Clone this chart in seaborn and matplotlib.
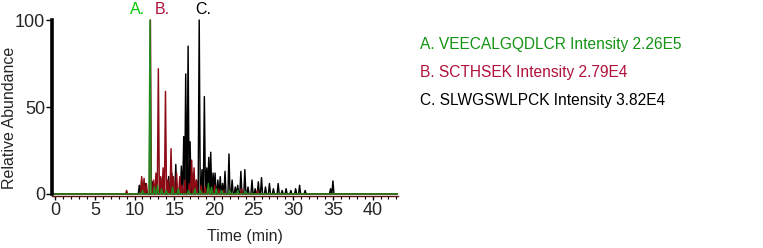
import matplotlib
matplotlib.use("Agg")
import matplotlib.pyplot as plt
import matplotlib.ticker as mticker
import seaborn as sns
import pandas as pd

# ---------------- data ----------------
series_names = ["A. VEECALGQDLCR", "B. SCTHSEK", "C. SLWGSWLPCK"]
intensities = ["2.26E5", "2.79E4", "3.82E4"]
short_labels = ["A.", "B.", "C."]

# peak apex times (min) and relative abundances (%)
a_times = [11.0, 11.95, 12.5, 12.9, 13.4, 14.0, 14.8, 15.5, 16.8, 17.6, 18.3,
           19.3, 19.7, 20.3, 21.0, 22.0, 23.0, 24.0]
a_heights = [2, 100, 4, 5, 3, 2, 4, 3, 2, 3, 2, 6, 4, 3, 2, 2, 2, 1.5]

b_times = [9.0, 10.9, 11.2, 11.5, 12.0, 12.4, 12.7, 13.0, 13.3, 13.6, 13.9,
           14.2, 14.6, 14.9, 15.3, 15.7, 16.0, 16.35, 16.9, 17.2, 17.5, 17.8,
           18.4, 18.9, 19.4, 20.1, 20.6, 21.2, 23.5, 25.5]
b_heights = [2, 10, 9, 6, 100, 8, 12, 72, 10, 15, 59, 8, 26, 10, 12, 10, 5,
             8, 6, 19.5, 15, 8, 5, 4, 3, 5, 3, 2, 3, 2]

c_times = [10.6, 10.9, 11.4, 12.3, 12.8, 13.3, 13.7, 14.3, 14.7, 15.2, 15.9,
           16.2, 16.45, 16.75, 17.0, 17.4, 17.8, 18.15, 18.5, 18.8, 19.1, 19.35,
           19.6, 19.9, 20.15, 20.5, 20.8, 21.1, 21.4, 21.9, 22.3, 22.7, 23.0,
           23.4, 23.9, 24.3, 24.8, 25.2, 25.6, 26.0, 26.5, 27.0, 27.5, 28.1,
           28.6, 29.1, 29.7, 30.3, 30.8, 31.5, 34.7, 35.0]
c_heights = [5, 8, 6, 7, 5, 9, 6, 10, 12, 17, 16, 33, 69, 85, 30, 12, 8, 100,
             14, 56, 15, 21, 24, 12, 12, 8, 10, 6, 13, 23, 8, 4, 5, 13, 14, 4,
             8, 3, 7, 9.4, 4, 6, 3, 6, 2, 3, 2, 3, 5, 2, 3, 7.5]

run_start, run_end = -0.4, 43.5   # baseline extent of the acquisition (min)

line_colors = {series_names[0]: "#1e8c1e",
               series_names[1]: "#8c0a14",
               series_names[2]: "#000000"}
label_colors = ["#00c800", "#b0103a", "#000000"]
legend_colors = ["#149414", "#b0103a", "#000000"]

# ---------------- build long-form table ----------------
HALF_WIDTH = 0.13  # drawing style: half width of each spike at the baseline


def trace(name, times, heights):
    rows = [(run_start, 0.0)]
    for t, h in sorted(zip(times, heights)):
        rows += [(t - HALF_WIDTH, 0.0), (t, h), (t + HALF_WIDTH, 0.0)]
    rows.append((run_end, 0.0))
    return pd.DataFrame({"Time": [r[0] for r in rows],
                         "Abundance": [r[1] for r in rows],
                         "Peptide": name})


df = pd.concat([trace(series_names[2], c_times, c_heights),
                trace(series_names[1], b_times, b_heights),
                trace(series_names[0], a_times, a_heights)],
               ignore_index=True)

# ---------------- plot ----------------
sns.set_theme(style="white")
plt.rcParams["font.family"] = ["Liberation Sans", "DejaVu Sans"]

W, H = 763, 248
fig = plt.figure(figsize=(W / 100, H / 100), dpi=100)
ylo, yhi = -1.0, 101.0
px_bottom, px_top = 195.7, 18.3
ax = fig.add_axes([52 / W, (H - px_bottom) / H, (398 - 52) / W,
                   (px_bottom - px_top) / H])

sns.lineplot(data=df, x="Time", y="Abundance", hue="Peptide",
             hue_order=[series_names[2], series_names[1], series_names[0]],
             palette=line_colors, estimator=None, sort=False,
             linewidth=1.05, legend=False, ax=ax)

ax.set_xlim(-0.4, 43.2)
ax.set_ylim(ylo, yhi)
ax.set_xlabel("")
ax.set_ylabel("")

for s in ["top", "right"]:
    ax.spines[s].set_visible(False)
ax.spines["left"].set_linewidth(2.6)
ax.spines["left"].set_color("black")
ax.spines["left"].set_bounds(0, 100)
ax.spines["bottom"].set_linewidth(1.0)
ax.spines["bottom"].set_color("#5a1010")

ax.xaxis.set_major_locator(mticker.MultipleLocator(5))
ax.xaxis.set_minor_locator(mticker.MultipleLocator(1))
ax.set_yticks([0, 50, 100])
ax.tick_params(axis="x", which="major", direction="out", length=3, width=1,
               color="black", labelsize=13, pad=1.5, bottom=True)
ax.tick_params(axis="x", which="minor", direction="out", length=2, width=0.8,
               color="black", bottom=True)
ax.tick_params(axis="y", which="major", direction="out", length=4.5, width=1,
               color="black", labelsize=13, pad=0.5, left=True)

fig.text(245 / W, 1 - 237 / H, "Time (min)", ha="center", va="center",
         fontsize=11.5)
fig.text(10 / W, 1 - 118 / H, "Relative Abundance", ha="center", va="center",
         rotation=90, fontsize=11.5)

# peak labels above the traces
for lab, col, xc in zip(short_labels, label_colors, [138, 162.5, 203]):
    fig.text(xc / W, 1 - 10 / H, lab, ha="center", va="center",
             fontsize=11.5, color=col)

# legend-style annotation on the right
for name, inten, col, yc in zip(series_names, intensities, legend_colors,
                                [44, 72, 100]):
    fig.text(420 / W, 1 - yc / H, f"{name} Intensity {inten}", ha="left",
             va="center", fontsize=11.2, color=col)

fig.savefig("out.png", dpi=100)
